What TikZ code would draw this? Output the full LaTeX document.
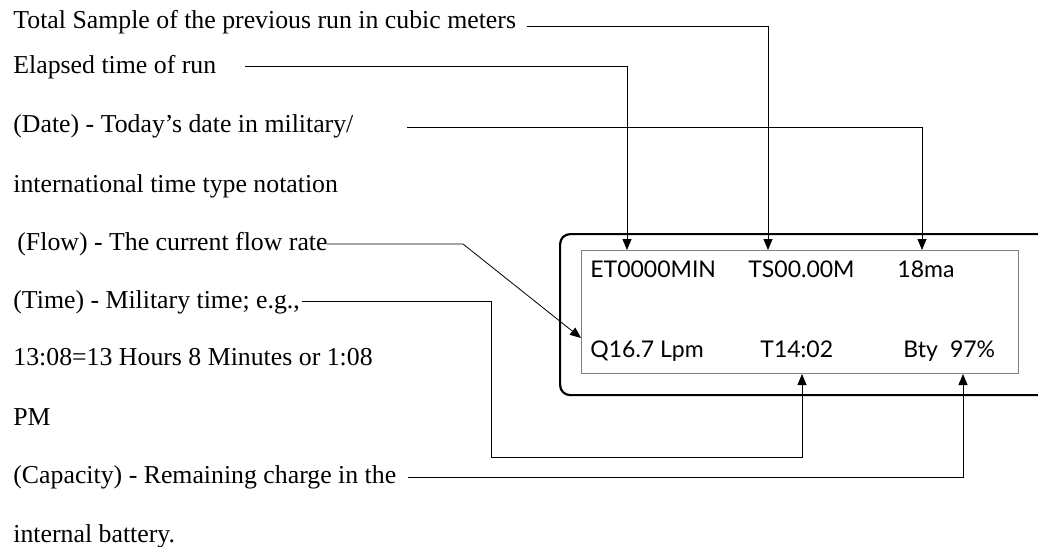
\documentclass[tikz,border=0pt]{standalone}
\usepackage{fontspec}
\setmainfont{Liberation Serif}
\newfontfamily\lcdfont{Lato}
\usepackage{tikz}
\usetikzlibrary{positioning}
\usetikzlibrary{arrows.meta}

\begin{document}
\begin{tikzpicture}[x=1pt,y=-1pt,->,>={Triangle[length=11pt,width=9pt]},line width=0.8pt,
        lbl/.style = {anchor=base west, inner sep=0pt, font=\fontsize{25.8}{30}\selectfont},
        disp/.style = {anchor=base west, inner sep=0pt, font=\lcdfont\fontsize{23}{26}\selectfont},
        screen/.style = {draw, anchor=north west, inner sep=0pt}]
        \useasboundingbox (0,0) rectangle (1038,546);
        \clip (0,0) rectangle (1038,546);
        % the meter
        \node[screen, line width=2.2pt, rounded corners=10pt, minimum width=620pt, minimum height=161pt] (case) at (559,233) {};
        \node[screen, draw=gray, line width=1pt, minimum width=437pt, minimum height=123pt] (lcd) at (581,250) {};
        \node[disp] (et) at (590,277) {ET0000MIN};
        \node[disp] (ts) at (748,277) {TS00.00M};
        \node[disp] (ma) at (897,277) {18ma};
        \node[disp] (q) at (590,357) {Q16.7 Lpm};
        \node[disp] (t) at (760,357) {T14:02};
        \node[disp] (bty) at (903,357) {Bty\hspace{12pt}97\%};
        % the notes
        \node[lbl] (tot) at (13,28) {Total Sample of the previous run in cubic meters};
        \node[lbl] (ela) at (13,73) {Elapsed time of run};
        \node[lbl] (dat) at (13,132) {(Date) - Today’s date in military/};
        \node[lbl] (int) at (13,192) {international time type notation};
        \node[lbl] (flo) at (17,250) {(Flow) - The current flow rate};
        \node[lbl] (tim) at (13,308) {(Time) - Military time; e.g.,};
        \node[lbl] (hrs) at (13,365) {13:08=13 Hours 8 Minutes or 1:08};
        \node[lbl] (pm) at (13,425) {PM};
        \node[lbl] (cap) at (13,483) {(Capacity) - Remaining charge in the};
        \node[lbl] (bat) at (13,542) {internal battery.};
        \coordinate (sTot) at (527,26);
        \coordinate (sEla) at (245,66);
        \coordinate (sDat) at (407,127);
        \coordinate (sFlo) at (327,244);
        \coordinate (bFlo) at (463,244);
        \coordinate (sTim) at (302,301);
        \coordinate (bTim) at (491,457);
        \coordinate (sCap) at (408,477);
        \draw (sTot) -| ([xshift=187pt]lcd.north west);
        \draw (sEla) -| ([xshift=46pt]lcd.north west);
        \draw (sDat) -| ([xshift=341pt]lcd.north west);
        \draw (sFlo) -- (bFlo) -- ([yshift=-26pt]lcd.west);
        \draw (sTim) -| (bTim) -| ([xshift=221pt]lcd.south west);
        \draw (sCap) -| ([xshift=382pt]lcd.south west);
\end{tikzpicture}
\end{document}
